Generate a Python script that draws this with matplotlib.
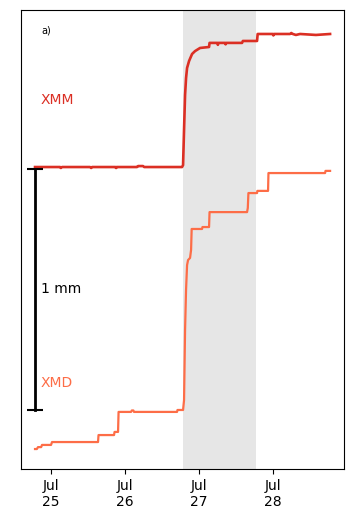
import matplotlib
matplotlib.use("Agg")
import matplotlib.pyplot as plt
import matplotlib.dates as mdates
import numpy as np
import pandas as pd

# start of the record
t0 = pd.Timestamp("2019-07-24 00:00")

# XMM: hours since t0, displacement in mm (relative to first sample)
xmm_hours = [18.91, 27.02, 27.3, 27.66, 36.75, 37.1, 37.39, 45.0, 45.2, 45.4,
             52.0, 52.31, 53.93, 54.3, 66.58, 66.91, 67.23, 67.56, 67.88, 68.21,
             68.86, 69.83, 70.80, 72.42, 75.34, 75.5, 78.0, 78.2, 78.4, 80.5,
             80.7, 80.9, 86.04, 86.3, 90.90, 91.1, 96.0, 96.2, 96.4, 101.61,
             102.0, 102.5, 103.5, 104.85, 110.0, 114.58]
xmm_mm = [0.0, 0.0, -0.004, 0.0, 0.0, -0.004, 0.0, 0.0, -0.004, 0.0,
          0.0, 0.004, 0.004, 0.0, 0.0, 0.008, 0.154, 0.299, 0.369, 0.411,
          0.440, 0.469, 0.481, 0.494, 0.498, 0.515, 0.515, 0.507, 0.515, 0.515,
          0.509, 0.515, 0.515, 0.523, 0.523, 0.552, 0.552, 0.546, 0.552, 0.552,
          0.556, 0.552, 0.548, 0.552, 0.548, 0.552]

# XMD: hours since t0, displacement in mm (relative to first sample)
xmd_hours = [18.91, 19.5, 19.88, 20.9, 21.18, 24.1, 24.42, 39.34, 39.5, 44.53,
             44.7, 45.83, 46.0, 50.04, 50.3, 50.8, 51.0, 64.96, 65.1, 66.91,
             67.23, 67.56, 67.88, 68.21, 68.53, 69.18, 69.51, 69.7, 73.07, 73.2,
             75.34, 75.5, 87.66, 87.9, 88.1, 90.90, 91.0, 94.47, 94.6, 112.96,
             113.1, 114.58]
xmd_mm = [0.0, 0.0, 0.008, 0.008, 0.017, 0.017, 0.029, 0.029, 0.058, 0.058,
          0.071, 0.071, 0.154, 0.154, 0.160, 0.160, 0.154, 0.154, 0.162, 0.162,
          0.203, 0.494, 0.660, 0.763, 0.784, 0.793, 0.826, 0.913, 0.913, 0.921,
          0.921, 0.983, 0.983, 1.000, 1.062, 1.062, 1.071, 1.071, 1.145, 1.145,
          1.154, 1.154]

xmm_offset = 1.170          # vertical offset of the XMM trace, mm
shade_hours = (66.91, 90.58)
xlim_hours = (14.27, 119.1)
ylim_mm = (-0.083, 1.822)
bar_hours = 18.91
bar_mm = (0.162, 1.162)

red = "#db2f24"
orange = "#fd6d47"


def to_time(h):
    return t0 + pd.to_timedelta(np.asarray(h), unit="h")


fig = plt.figure(figsize=(3.47, 5.20), dpi=100)
ax = fig.add_axes([0.0597, 0.098, 0.9317, 0.883])

ax.axvspan(to_time(shade_hours[0]), to_time(shade_hours[1]), color="#e6e6e6", lw=0, zorder=0)

ax.plot(to_time(xmm_hours), np.asarray(xmm_mm) + xmm_offset, color=red, lw=1.9)
ax.plot(to_time(xmd_hours), xmd_mm, color=orange, lw=1.6)

# 1 mm scale bar
tb = to_time(bar_hours)
ax.plot([tb, tb], bar_mm, color="black", lw=2, marker="_", ms=11, mew=1.5)
ax.text(to_time(bar_hours + 1.9), 0.662, "1 mm", fontsize=10, va="center", ha="left")

ax.text(to_time(bar_hours + 1.9), 1.45, "XMM", color=red, fontsize=10, va="center")
ax.text(to_time(bar_hours + 1.9), 0.274, "XMD", color=orange, fontsize=10, va="center")
ax.text(to_time(bar_hours + 1.9), 1.738, "a)", fontsize=7, va="center")

ax.set_xlim(to_time(xlim_hours[0]), to_time(xlim_hours[1]))
ax.set_ylim(*ylim_mm)
ax.xaxis.set_major_locator(mdates.DayLocator())
ax.xaxis.set_major_formatter(mdates.DateFormatter("%b\n%d"))
ax.tick_params(axis="x", labelsize=10)
ax.set_yticks([])

fig.savefig("out.png", dpi=100)
